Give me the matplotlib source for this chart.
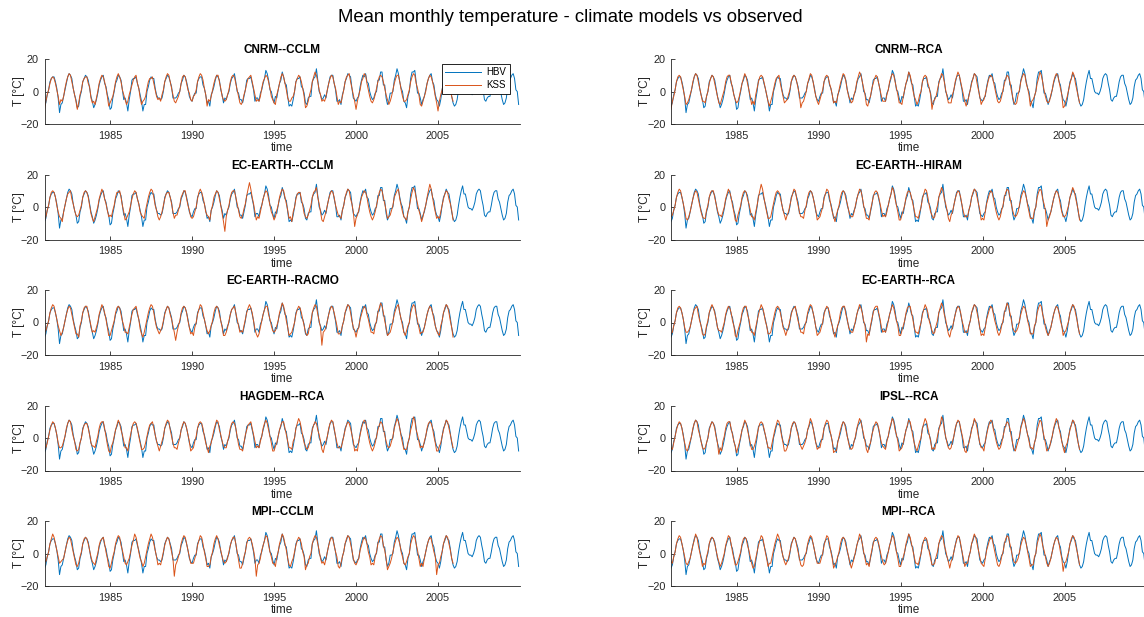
import numpy as np
import matplotlib
matplotlib.use('Agg')
import matplotlib.pyplot as plt

# observed (HBV), monthly means Jan..Dec, 1981-2009
hbv_start = 1981
hbv = [
    [-9, -7, -2, 1, 6, 8, 9, 9, 6, 2, -4, -13],
    [-8, -7, -3, 1, 5, 9, 11, 10, 8, 2, -2, -5],
    [-10, -9, -3, 0, 6, 8, 10, 9, 7, 2, -3, -6],
    [-10, -8, -5, -1, 4, 7, 9, 10, 5, 3, -2, -5],
    [-11, -10, -4, 0, 5, 7, 10, 9, 7, 1, -5, -4],
    [-7, -12, -5, 0, 7, 8, 8, 9, 5, 2, -2, -6],
    [-12, -8, -8, 0, 3, 7, 9, 8, 8, 2, -2, -4],
    [-4, -5, -4, 0, 6, 8, 10, 9, 6, 3, -4, -4],
    [-4, -3, -1, 0, 5, 7, 10, 9, 6, 2, -3, -5],
    [-6, -3, -1, -1, 6, 8, 9, 9, 4, 2, -2, -7],
    [-6, -9, -2, 0, 3, 7, 10, 9, 7, 1, -2, -7],
    [-4, -5, -2, 0, 5, 8, 9, 11, 6, 0, -1, -5],
    [-5, -7, -3, 1, 7, 8, 8, 9, 5, 1, -6, -4],
    [-4, -6, -1, 1, 5, 8, 13, 11, 7, 1, 0, -4],
    [-7, -3, -4, 1, 5, 7, 12, 9, 5, 4, -3, -9],
    [-8, -9, -5, 0, 6, 8, 8, 9, 3, 2, -1, -7],
    [-8, -4, -3, -3, 6, 8, 9, 14, 7, 0, -2, -5],
    [-4, -2, -4, 1, 5, 9, 10, 10, 5, 1, -6, -6],
    [-5, -8, -2, 1, 6, 8, 11, 10, 9, 2, -4, -5],
    [-6, -4, -3, 3, 7, 10, 9, 11, 6, 5, 0, -3],
    [-5, -4, -1, 0, 7, 7, 12, 12, 4, 4, -4, -8],
    [-6, -1, -1, 0, 7, 10, 14, 11, 6, 2, 0, -6],
    [-7, -10, -3, 0, 8, 12, 12, 13, 6, -1, -1, -4],
    [-8, -5, -3, 1, 5, 8, 10, 11, 6, 4, -2, -5],
    [-6, -9, -5, 1, 6, 8, 11, 9, 8, 3, -3, -7],
    [-9, -8, -5, 1, 6, 10, 13, 8, 8, 4, 0, -1],
    [-1, -2, 0, 3, 8, 10, 11, 10, 5, 1, -5, -6],
    [-4, -3, -3, 1, 6, 9, 10, 10, 5, 3, -1, -5],
    [-8, -7, -4, 3, 7, 8, 10, 11, 8, 1, 0, -8],
]

# climate models (KSS), monthly means Jan..Dec, 1981-2005
kss_start = 1981
cnrm_cclm = [
    [-11, -6, -2, 1, 5, 8, 9, 8, 5, 1, -3, -8],
    [-5, -6, -3, 2, 6, 9, 11, 10, 6, 2, -2, -6],
    [-11, -7, -2, 1, 6, 8, 9, 9, 5, 3, -4, -7],
    [-6, -8, -4, 0, 5, 8, 10, 9, 6, 2, -3, -9],
    [-7, -5, -3, 1, 6, 9, 11, 9, 6, 1, -2, -5],
    [-8, -6, -2, 1, 4, 7, 9, 10, 5, 2, -4, -8],
    [-6, -5, -3, 2, 6, 8, 8, 9, 5, 1, -3, -5],
    [-4, -6, -2, 1, 6, 9, 11, 10, 6, 2, -2, -6],
    [-7, -5, -3, 0, 5, 9, 10, 9, 5, 1, -1, -5],
    [-6, -3, -2, 1, 6, 9, 11, 10, 7, 2, -2, -9],
    [-5, -6, -3, 1, 5, 8, 10, 10, 6, 2, -3, -5],
    [-6, -5, -2, 1, 6, 9, 10, 9, 5, 1, -3, -7],
    [-8, -6, -2, 1, 5, 8, 9, 10, 6, 2, -2, -6],
    [-5, -6, -3, 2, 6, 8, 10, 9, 6, 2, -3, -5],
    [-7, -8, -2, 1, 5, 9, 11, 9, 5, 1, -4, -6],
    [-6, -4, -3, 0, 6, 8, 10, 9, 6, 2, -3, -10],
    [-9, -6, -2, 1, 6, 9, 12, 10, 6, 1, -2, -6],
    [-5, -6, -3, 1, 5, 8, 10, 9, 5, 2, -3, -8],
    [-6, -7, -3, 1, 6, 9, 10, 11, 6, 2, -2, -6],
    [-11, -6, -2, 1, 6, 8, 11, 10, 5, 1, -3, -6],
    [-7, -5, -2, 2, 6, 9, 10, 9, 6, 2, -2, -5],
    [-8, -6, -3, 1, 5, 8, 10, 10, 6, 1, -3, -6],
    [-6, -5, -2, 1, 6, 9, 11, 10, 5, 2, -2, -8],
    [-9, -6, -3, 0, 5, 8, 10, 9, 6, 2, -3, -7],
    [-12, -6, -2, 1, 6, 9, 11, 10, 6, 2, -3, -6],
]
cnrm_rca = [
    [-11, -6, -3, 1, 6, 9, 10, 9, 5, 1, -3, -8],
    [-7, -5, -2, 1, 6, 9, 11, 10, 6, 2, -2, -6],
    [-6, -7, -3, 0, 5, 8, 10, 9, 5, 1, -3, -7],
    [-8, -5, -2, 1, 6, 9, 10, 10, 6, 2, -2, -5],
    [-7, -6, -3, 1, 5, 8, 11, 9, 5, 1, -3, -8],
    [-6, -8, -2, 2, 6, 9, 10, 9, 6, 2, -2, -6],
    [-9, -6, -3, 1, 5, 8, 9, 10, 5, 1, -3, -7],
    [-6, -5, -2, 1, 6, 9, 10, 9, 6, 2, -2, -10],
    [-7, -6, -3, 0, 5, 8, 11, 10, 6, 1, -3, -6],
    [-8, -5, -2, 1, 6, 9, 10, 9, 5, 2, -2, -7],
    [-6, -7, -3, 1, 5, 8, 11, 10, 6, 1, -3, -5],
    [-7, -6, -2, 1, 6, 9, 12, 10, 6, 2, -2, -8],
    [-9, -5, -3, 2, 5, 8, 10, 9, 5, 1, -3, -6],
    [-6, -6, -2, 1, 6, 9, 11, 10, 6, 2, -2, -7],
    [-7, -8, -3, 1, 5, 8, 12, 10, 6, 1, -3, -5],
    [-8, -6, -2, 0, 6, 9, 10, 9, 5, 2, -2, -11],
    [-6, -5, -3, 1, 5, 8, 11, 10, 6, 1, -3, -7],
    [-7, -7, -2, 1, 6, 9, 12, 10, 6, 2, -2, -6],
    [-9, -6, -3, 1, 5, 8, 11, 10, 5, 1, -3, -8],
    [-6, -5, -2, 2, 6, 9, 10, 9, 6, 2, -2, -6],
    [-7, -6, -3, 1, 5, 8, 10, 9, 6, 1, -3, -7],
    [-8, -7, -2, 1, 6, 9, 11, 10, 5, 2, -2, -9],
    [-6, -5, -3, 0, 5, 8, 12, 10, 6, 1, -3, -6],
    [-7, -6, -2, 1, 6, 9, 11, 10, 6, 2, -2, -10],
    [-9, -6, -3, 1, 5, 8, 12, 10, 5, 1, -3, -7],
]
ecearth_cclm = [
    [-8, -6, -2, 1, 6, 9, 10, 9, 6, 1, -3, -6],
    [-7, -9, -3, 1, 5, 8, 9, 10, 5, 2, -2, -5],
    [-6, -5, -2, 1, 6, 9, 10, 9, 6, 1, -4, -7],
    [-9, -6, -3, 0, 5, 8, 11, 9, 5, 2, -2, -6],
    [-5, -6, -2, 1, 6, 9, 9, 10, 6, 1, -3, -8],
    [-7, -5, -3, 1, 5, 8, 10, 9, 5, 2, -3, -5],
    [-6, -7, -2, 2, 6, 9, 11, 10, 6, 1, -2, -6],
    [-8, -6, -3, 1, 5, 8, 9, 9, 6, 2, -3, -7],
    [-5, -5, -2, 1, 6, 8, 10, 10, 5, 1, -2, -6],
    [-7, -6, -3, 0, 5, 9, 11, 9, 6, 2, -3, -5],
    [-6, -8, -2, 1, 6, 8, 10, 9, 5, 1, -4, -9],
    [-15, -6, -2, 1, 6, 9, 10, 10, 6, 2, -2, -6],
    [-7, -5, -1, 2, 7, 11, 15, 11, 6, 2, -3, -8],
    [-6, -7, -3, 1, 5, 8, 10, 9, 5, 1, -3, -5],
    [-8, -6, -2, 1, 6, 9, 11, 10, 6, 2, -2, -7],
    [-6, -9, -3, 0, 5, 8, 9, 9, 5, 1, -4, -6],
    [-7, -5, -2, 1, 6, 9, 10, 12, 6, 2, -3, -8],
    [-9, -6, -3, 1, 5, 8, 10, 9, 6, 1, -2, -5],
    [-6, -7, -2, 1, 6, 9, 11, 10, 5, 2, -3, -12],
    [-7, -5, -2, 2, 6, 8, 10, 9, 6, 1, -3, -6],
    [-8, -6, -3, 1, 5, 9, 11, 10, 6, 2, -2, -7],
    [-6, -5, -2, 1, 6, 8, 10, 11, 5, 1, -3, -6],
    [-7, -8, -3, 0, 5, 9, 12, 10, 6, 2, -2, -5],
    [-9, -6, -2, 1, 6, 10, 14, 11, 6, 1, -3, -7],
    [-6, -7, -3, 1, 5, 8, 10, 9, 5, 2, -2, -8],
]
ecearth_hiram = [
    [-6, -5, -2, 1, 6, 9, 11, 10, 6, 2, -2, -7],
    [-8, -6, -3, 1, 5, 8, 10, 9, 5, 1, -3, -6],
    [-7, -7, -2, 1, 6, 9, 10, 10, 6, 2, -2, -5],
    [-5, -6, -3, 0, 5, 8, 11, 9, 6, 1, -3, -8],
    [-9, -5, -2, 1, 6, 9, 10, 9, 5, 2, -2, -6],
    [-6, -8, -3, 1, 6, 10, 14, 11, 6, 1, -3, -7],
    [-7, -6, -2, 2, 6, 9, 10, 9, 6, 2, -2, -5],
    [-8, -5, -3, 1, 5, 8, 11, 10, 5, 1, -3, -6],
    [-6, -7, -2, 1, 6, 9, 10, 9, 6, 2, -2, -8],
    [-7, -6, -3, 0, 5, 8, 11, 10, 6, 1, -3, -6],
    [-9, -5, -2, 1, 6, 9, 10, 9, 5, 2, -2, -5],
    [-6, -6, -3, 1, 5, 8, 11, 10, 6, 1, -3, -7],
    [-7, -8, -2, 2, 6, 9, 10, 9, 6, 2, -2, -6],
    [-5, -6, -3, 1, 5, 8, 12, 10, 5, 1, -3, -8],
    [-8, -5, -2, 1, 6, 9, 10, 9, 6, 2, -2, -6],
    [-6, -7, -3, 0, 5, 8, 11, 10, 6, 1, -3, -5],
    [-7, -6, -2, 1, 6, 9, 12, 10, 5, 2, -2, -7],
    [-9, -5, -3, 1, 5, 8, 10, 9, 6, 1, -3, -6],
    [-6, -6, -2, 1, 6, 9, 11, 10, 6, 2, -2, -8],
    [-7, -8, -3, 2, 5, 8, 10, 9, 5, 1, -3, -6],
    [-8, -6, -2, 1, 6, 9, 11, 10, 6, 2, -2, -5],
    [-6, -5, -3, 1, 5, 8, 10, 9, 6, 1, -3, -7],
    [-7, -7, -2, 0, 6, 9, 11, 10, 5, 2, -2, -12],
    [-8, -6, -3, 1, 5, 8, 10, 9, 6, 1, -3, -6],
    [-6, -5, -2, 1, 6, 9, 12, 10, 6, 2, -2, -8],
]
ecearth_racmo = [
    [-6, -5, -2, 1, 6, 9, 11, 10, 6, 2, -2, -5],
    [-8, -6, -3, 1, 5, 8, 10, 9, 5, 1, -3, -7],
    [-7, -9, -2, 1, 6, 9, 10, 10, 6, 2, -2, -6],
    [-5, -6, -3, 0, 5, 8, 11, 9, 6, 2, -3, -8],
    [-8, -5, -2, 1, 6, 9, 10, 9, 5, 1, -2, -6],
    [-6, -7, -3, 1, 5, 8, 9, 10, 6, 2, -4, -7],
    [-9, -6, -2, 2, 6, 9, 11, 10, 6, 1, -3, -5],
    [-7, -5, -3, 1, 5, 8, 10, 9, 5, 2, -2, -6],
    [-11, -6, -2, 1, 6, 9, 10, 9, 6, 1, -3, -7],
    [-6, -8, -3, 0, 5, 8, 11, 10, 6, 2, -2, -5],
    [-7, -5, -2, 1, 6, 9, 10, 9, 5, 1, -3, -8],
    [-8, -6, -3, 1, 5, 8, 9, 10, 6, 2, -2, -6],
    [-5, -6, -2, 2, 6, 9, 11, 9, 6, 1, -4, -7],
    [-9, -7, -3, 1, 5, 8, 10, 10, 5, 2, -2, -5],
    [-6, -5, -2, 1, 6, 9, 12, 10, 6, 1, -3, -8],
    [-7, -6, -3, 0, 5, 8, 10, 9, 6, 2, -2, -6],
    [-8, -7, -2, 1, 6, 9, 11, 10, 5, 1, -3, -14],
    [-6, -5, -3, 1, 5, 8, 10, 9, 6, 2, -2, -7],
    [-7, -6, -2, 1, 6, 9, 11, 10, 6, 1, -3, -5],
    [-9, -5, -3, 2, 5, 8, 10, 9, 5, 2, -2, -6],
    [-6, -7, -2, 1, 6, 9, 12, 10, 6, 1, -3, -8],
    [-7, -6, -3, 1, 5, 8, 10, 11, 6, 2, -2, -6],
    [-8, -5, -2, 0, 6, 9, 11, 10, 5, 1, -3, -7],
    [-6, -6, -3, 1, 5, 8, 10, 9, 6, 2, -2, -5],
    [-7, -8, -2, 1, 6, 9, 11, 10, 6, 1, -3, -9],
]
ecearth_rca = [
    [-7, -6, -2, 1, 6, 9, 10, 9, 6, 2, -3, -6],
    [-6, -5, -3, 1, 5, 8, 9, 10, 5, 1, -2, -7],
    [-8, -7, -2, 1, 6, 9, 11, 9, 6, 2, -3, -5],
    [-5, -6, -3, 0, 5, 8, 10, 9, 6, 1, -2, -8],
    [-9, -5, -2, 1, 6, 9, 10, 10, 5, 2, -3, -6],
    [-6, -8, -3, 1, 5, 8, 11, 9, 6, 1, -2, -7],
    [-7, -6, -2, 2, 6, 9, 10, 9, 6, 2, -3, -5],
    [-8, -5, -3, 1, 5, 8, 9, 10, 5, 1, -2, -6],
    [-6, -7, -2, 1, 6, 9, 11, 10, 6, 2, -3, -8],
    [-7, -6, -3, 0, 5, 8, 10, 9, 6, 1, -2, -6],
    [-9, -5, -2, 1, 6, 9, 10, 10, 5, 2, -3, -5],
    [-6, -6, -3, 1, 5, 8, 11, 9, 6, 1, -2, -12],
    [-7, -8, -2, 2, 6, 9, 10, 10, 6, 2, -3, -6],
    [-5, -6, -3, 1, 5, 8, 11, 9, 5, 1, -2, -8],
    [-8, -5, -2, 1, 6, 9, 10, 10, 6, 2, -3, -6],
    [-6, -7, -3, 0, 5, 8, 11, 9, 6, 1, -2, -5],
    [-7, -6, -2, 1, 6, 9, 12, 10, 5, 2, -3, -7],
    [-9, -5, -3, 1, 5, 8, 10, 9, 6, 1, -2, -6],
    [-6, -6, -2, 1, 6, 9, 11, 10, 6, 2, -3, -8],
    [-7, -8, -3, 2, 5, 8, 10, 9, 5, 1, -2, -6],
    [-8, -6, -2, 1, 6, 9, 12, 10, 6, 2, -3, -5],
    [-6, -5, -3, 1, 5, 8, 10, 9, 6, 1, -2, -7],
    [-7, -7, -2, 0, 6, 9, 11, 10, 5, 2, -3, -6],
    [-8, -6, -3, 1, 5, 8, 10, 9, 6, 1, -2, -8],
    [-6, -5, -2, 1, 6, 9, 11, 10, 6, 2, -3, -7],
]
hagdem_rca = [
    [-7, -6, -3, 1, 5, 8, 10, 9, 6, 2, -3, -6],
    [-6, -5, -2, 1, 6, 9, 11, 10, 5, 1, -2, -7],
    [-8, -7, -3, 0, 5, 8, 9, 9, 6, 2, -3, -5],
    [-5, -6, -2, 1, 6, 9, 10, 10, 6, 1, -4, -8],
    [-9, -5, -3, 1, 5, 8, 11, 9, 5, 2, -2, -6],
    [-6, -8, -2, 2, 6, 9, 10, 9, 6, 1, -3, -7],
    [-7, -6, -3, 1, 5, 8, 9, 10, 6, 2, -2, -5],
    [-8, -5, -2, 1, 6, 9, 11, 10, 5, 1, -3, -6],
    [-6, -7, -3, 0, 5, 8, 10, 9, 6, 2, -2, -8],
    [-7, -6, -2, 1, 6, 9, 10, 9, 6, 1, -3, -6],
    [-9, -5, -3, 1, 5, 8, 11, 10, 5, 2, -2, -5],
    [-6, -6, -2, 1, 6, 9, 10, 9, 6, 1, -4, -7],
    [-7, -8, -3, 2, 5, 8, 9, 10, 6, 2, -2, -6],
    [-5, -6, -2, 1, 6, 9, 11, 9, 5, 1, -3, -8],
    [-8, -5, -3, 1, 5, 8, 10, 10, 6, 2, -2, -6],
    [-6, -7, -2, 0, 6, 9, 12, 10, 6, 1, -3, -5],
    [-7, -6, -3, 1, 5, 8, 10, 9, 5, 2, -2, -7],
    [-9, -5, -2, 1, 6, 9, 11, 10, 6, 1, -3, -6],
    [-6, -6, -3, 1, 5, 8, 10, 9, 6, 2, -2, -8],
    [-7, -8, -2, 2, 6, 9, 11, 10, 5, 1, -3, -6],
    [-8, -6, -3, 1, 5, 8, 10, 9, 6, 2, -2, -5],
    [-6, -5, -2, 1, 6, 9, 12, 10, 6, 1, -3, -7],
    [-7, -7, -3, 0, 5, 8, 13, 11, 5, 2, -2, -6],
    [-5, -6, -2, 1, 6, 9, 10, 9, 6, 1, -3, -8],
    [-8, -5, -3, 1, 5, 8, 11, 10, 6, 2, -2, -6],
]
ipsl_rca = [
    [-6, -7, -3, 1, 5, 8, 10, 9, 6, 1, -3, -7],
    [-8, -5, -2, 1, 6, 9, 11, 10, 5, 2, -2, -6],
    [-7, -6, -3, 0, 5, 8, 10, 9, 6, 1, -3, -10],
    [-6, -8, -2, 1, 6, 9, 10, 10, 6, 2, -2, -5],
    [-9, -6, -3, 1, 5, 8, 11, 9, 5, 1, -3, -7],
    [-7, -5, -2, 2, 6, 9, 10, 9, 6, 2, -2, -6],
    [-6, -7, -3, 1, 5, 8, 11, 10, 6, 1, -3, -8],
    [-8, -6, -2, 1, 6, 9, 10, 9, 5, 2, -2, -5],
    [-7, -5, -3, 0, 5, 8, 12, 10, 6, 1, -3, -7],
    [-6, -6, -2, 1, 6, 9, 11, 10, 6, 2, -2, -9],
    [-8, -8, -3, 1, 5, 8, 10, 9, 5, 1, -3, -6],
    [-7, -6, -2, 1, 6, 9, 12, 10, 6, 2, -2, -7],
    [-9, -5, -3, 2, 5, 8, 10, 9, 6, 1, -3, -5],
    [-6, -7, -2, 1, 6, 9, 12, 10, 5, 2, -2, -8],
    [-7, -6, -3, 1, 5, 8, 11, 10, 6, 1, -3, -6],
    [-8, -5, -2, 0, 6, 9, 12, 10, 6, 2, -2, -7],
    [-6, -7, -3, 1, 5, 8, 13, 11, 5, 1, -3, -6],
    [-7, -6, -2, 1, 6, 9, 11, 10, 6, 2, -2, -8],
    [-9, -5, -3, 1, 5, 8, 12, 10, 6, 1, -3, -6],
    [-6, -8, -2, 2, 6, 9, 11, 10, 5, 2, -2, -5],
    [-7, -6, -3, 1, 5, 8, 10, 9, 6, 1, -3, -7],
    [-8, -5, -2, 1, 6, 9, 12, 10, 6, 2, -2, -6],
    [-6, -7, -3, 0, 5, 8, 11, 10, 5, 1, -3, -8],
    [-7, -6, -2, 1, 6, 9, 12, 10, 6, 2, -2, -6],
    [-9, -5, -3, 1, 5, 8, 11, 10, 6, 1, -3, -7],
]
mpi_cclm = [
    [-4, -5, -2, 1, 6, 9, 12, 10, 6, 2, -2, -6],
    [-5, -4, -3, 1, 5, 8, 10, 9, 5, 1, -3, -7],
    [-8, -6, -2, 1, 6, 9, 10, 9, 6, 2, -2, -5],
    [-6, -7, -3, 0, 5, 8, 9, 10, 6, 1, -3, -8],
    [-9, -6, -2, 1, 6, 9, 11, 10, 5, 2, -2, -6],
    [-7, -5, -3, 1, 5, 8, 12, 10, 6, 1, -3, -5],
    [-8, -6, -2, 2, 6, 9, 12, 10, 6, 2, -2, -7],
    [-6, -7, -3, 1, 5, 8, 10, 9, 5, 1, -3, -14],
    [-7, -5, -2, 1, 6, 9, 11, 10, 6, 2, -2, -6],
    [-6, -6, -3, 0, 5, 8, 11, 10, 6, 1, -3, -8],
    [-8, -7, -2, 1, 6, 9, 11, 9, 5, 2, -2, -5],
    [-6, -5, -3, 1, 5, 8, 10, 10, 6, 1, -4, -9],
    [-9, -6, -2, 1, 6, 9, 10, 9, 6, 2, -3, -14],
    [-7, -6, -3, 2, 5, 8, 11, 10, 5, 1, -2, -6],
    [-6, -8, -2, 1, 6, 9, 12, 10, 6, 2, -3, -7],
    [-8, -5, -3, 1, 5, 8, 10, 9, 6, 1, -2, -10],
    [-7, -6, -2, 0, 6, 9, 11, 10, 6, 2, -3, -6],
    [-5, -7, -3, 1, 5, 8, 10, 9, 5, 1, -2, -8],
    [-9, -6, -2, 1, 6, 9, 11, 10, 6, 2, -3, -6],
    [-7, -5, -3, 2, 5, 8, 10, 9, 6, 1, -2, -7],
    [-6, -7, -2, 1, 6, 9, 11, 10, 5, 2, -3, -10],
    [-8, -6, -3, 1, 5, 8, 10, 9, 6, 1, -2, -6],
    [-7, -5, -2, 0, 6, 9, 11, 10, 6, 2, -3, -8],
    [-6, -8, -3, 1, 5, 8, 10, 9, 5, 1, -2, -13],
    [-7, -6, -2, 1, 6, 9, 11, 10, 6, 2, -3, -6],
]
mpi_rca = [
    [-5, -6, -2, 1, 6, 9, 11, 10, 6, 2, -2, -6],
    [-7, -5, -3, 1, 5, 8, 12, 10, 5, 1, -3, -8],
    [-6, -7, -2, 1, 6, 9, 10, 9, 6, 2, -2, -5],
    [-8, -6, -3, 0, 5, 8, 11, 10, 6, 1, -3, -7],
    [-7, -5, -2, 1, 6, 9, 10, 9, 5, 2, -2, -6],
    [-9, -8, -3, 1, 5, 8, 11, 10, 6, 1, -3, -8],
    [-6, -6, -2, 2, 6, 9, 12, 10, 6, 2, -2, -5],
    [-7, -5, -3, 1, 5, 8, 10, 9, 5, 1, -3, -7],
    [-8, -7, -2, 1, 6, 9, 11, 10, 6, 2, -2, -6],
    [-6, -6, -3, 0, 5, 8, 11, 10, 6, 1, -3, -9],
    [-7, -5, -2, 1, 6, 9, 10, 9, 5, 2, -2, -6],
    [-9, -6, -3, 1, 5, 8, 12, 10, 6, 1, -3, -7],
    [-6, -8, -2, 2, 6, 9, 10, 9, 6, 2, -2, -5],
    [-7, -6, -3, 1, 5, 8, 11, 10, 5, 1, -3, -8],
    [-8, -5, -2, 1, 6, 9, 12, 10, 6, 2, -2, -6],
    [-6, -7, -3, 0, 5, 8, 10, 9, 6, 1, -3, -7],
    [-7, -6, -2, 1, 6, 9, 11, 10, 5, 2, -2, -5],
    [-9, -5, -3, 1, 5, 8, 11, 10, 6, 1, -3, -8],
    [-6, -6, -2, 1, 6, 9, 12, 10, 6, 2, -2, -6],
    [-7, -8, -3, 2, 5, 8, 10, 9, 5, 1, -3, -7],
    [-8, -6, -2, 1, 6, 9, 11, 10, 6, 2, -2, -5],
    [-6, -5, -3, 1, 5, 8, 10, 9, 6, 1, -3, -8],
    [-7, -7, -2, 0, 6, 9, 12, 10, 5, 2, -2, -6],
    [-8, -6, -3, 1, 5, 8, 10, 9, 6, 1, -3, -11],
    [-6, -5, -2, 1, 6, 9, 11, 10, 6, 2, -2, -7],
]

# panel order: row by row, left then right
panels = [
    ('CNRM--CCLM', cnrm_cclm), ('CNRM--RCA', cnrm_rca),
    ('EC-EARTH--CCLM', ecearth_cclm), ('EC-EARTH--HIRAM', ecearth_hiram),
    ('EC-EARTH--RACMO', ecearth_racmo), ('EC-EARTH--RCA', ecearth_rca),
    ('HAGDEM--RCA', hagdem_rca), ('IPSL--RCA', ipsl_rca),
    ('MPI--CCLM', mpi_cclm), ('MPI--RCA', mpi_rca),
]
xticks = [1985, 1990, 1995, 2000, 2005]
yticks = [-20, 0, 20]

plt.rcParams['font.family'] = ['Liberation Sans', 'DejaVu Sans']
dark = '#262626'
blue = '#0072BD'
orange = '#D95319'

hbv_y = np.array(hbv).ravel()
hbv_t = hbv_start + np.arange(len(hbv_y)) / 12

W, H = 1144, 617
fig = plt.figure(figsize=(W / 100, H / 100), dpi=100)
fig.suptitle('Mean monthly temperature - climate models vs observed',
             x=0.4985, y=1 - 18 / H, va='center', fontsize=13.3)

col_x = [44.5, 671]
row_top = [59, 174.5, 290, 405.5, 521]
aw, ah = 475.5, 65

for i, (name, kss) in enumerate(panels):
    r, c = divmod(i, 2)
    ax = fig.add_axes([col_x[c] / W, 1 - (row_top[r] + ah) / H, aw / W, ah / H])
    kss_y = np.array(kss).ravel()
    kss_t = kss_start + np.arange(len(kss_y)) / 12
    ax.plot(hbv_t, hbv_y, color=blue, lw=0.7, label='HBV')
    ax.plot(kss_t, kss_y, color=orange, lw=0.7, label='KSS')
    ax.set_xlim(1981, 2010)
    ax.set_ylim(-20, 20)
    ax.set_xticks(xticks)
    ax.set_xticklabels([str(x) for x in xticks])
    ax.set_yticks(yticks)
    for s in ['top', 'right']:
        ax.spines[s].set_visible(False)
    for s in ['left', 'bottom']:
        ax.spines[s].set_color(dark)
        ax.spines[s].set_linewidth(0.6)
    ax.tick_params(direction='in', length=3, width=0.6, colors=dark,
                   labelsize=7.8)
    ax.tick_params(axis='x', pad=5)
    ax.tick_params(axis='y', pad=4)
    ax.set_title(name, fontsize=8.5, fontweight='bold', pad=4)
    ax.set_xlabel('time', fontsize=8.5, color=dark, labelpad=1)
    ax.set_ylabel('T [°C]', fontsize=8.5, color=dark, labelpad=-3)
    if i == 0:
        leg = ax.legend(loc='upper right', bbox_to_anchor=((510 - 44.5) / aw, 1 - 5 / ah),
                        borderaxespad=0, fontsize=7, fancybox=False, framealpha=1,
                        edgecolor='black', handlelength=3.7, borderpad=0.35,
                        labelspacing=0.3, handletextpad=0.6)
        leg.get_frame().set_linewidth(0.6)

fig.savefig('out.png', dpi=100)
